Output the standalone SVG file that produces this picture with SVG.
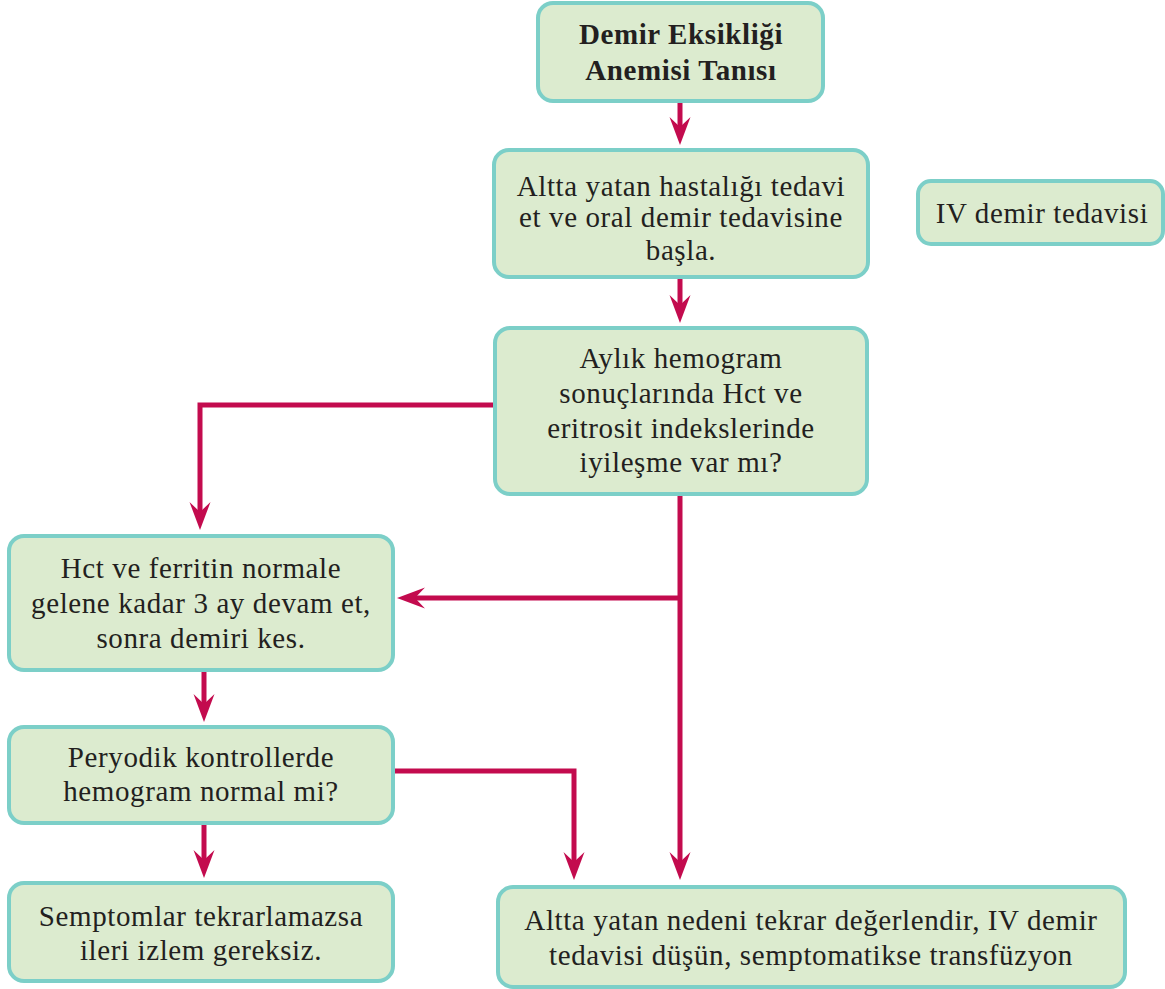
<svg xmlns="http://www.w3.org/2000/svg" width="1165" height="989" viewBox="0 0 1165 989">
<style>
.box{fill:#dcebcf;stroke:#7ccfc8;stroke-width:4}
.t{font-family:"Liberation Serif","Times New Roman",serif;font-size:29px;letter-spacing:0.6px;fill:#231f20;text-anchor:middle}
.b{font-weight:bold}
.c{fill:none;stroke:#c30b4e;stroke-width:5;stroke-linejoin:miter}
</style>
<defs>
<marker id="ah" markerUnits="userSpaceOnUse" markerWidth="40" markerHeight="40" viewBox="-20 -20 40 40" refX="0" refY="0" orient="auto">
<path d="M14,0 L-14,-10.5 L-4,0 L-14,10.5 Z" fill="#c30b4e"/>
</marker>
</defs>
<rect width="1165" height="989" fill="#ffffff"/>
<g id="connectors">
<path class="c" d="M680,101 V131" marker-end="url(#ah)"/>
<path class="c" d="M680,277 V309" marker-end="url(#ah)"/>
<path class="c" d="M494,405 H200 V516" marker-end="url(#ah)"/>
<path class="c" d="M680,494 V866" marker-end="url(#ah)"/>
<path class="c" d="M680,598 H411" marker-end="url(#ah)"/>
<path class="c" d="M204,670 V708" marker-end="url(#ah)"/>
<path class="c" d="M395,771 H574 V866" marker-end="url(#ah)"/>
<path class="c" d="M204,823 V864" marker-end="url(#ah)"/>
</g>
<g id="n1">
<rect class="box" x="538" y="3" width="285" height="98" rx="15"/>
<text class="t b" x="681" y="44">Demir Eksikliği</text>
<text class="t b" x="681" y="80">Anemisi Tanısı</text>
</g>
<g id="n2">
<rect class="box" x="494" y="150" width="374" height="127" rx="15"/>
<text class="t" x="681" y="196">Altta yatan hastalığı tedavi</text>
<text class="t" x="681" y="227">et ve oral demir tedavisine</text>
<text class="t" x="681" y="260">başla.</text>
</g>
<g id="n3">
<rect class="box" x="495" y="328" width="372" height="166" rx="15"/>
<text class="t" x="681" y="368">Aylık hemogram</text>
<text class="t" x="681" y="403">sonuçlarında Hct ve</text>
<text class="t" x="681" y="438">eritrosit indekslerinde</text>
<text class="t" x="681" y="472">iyileşme var mı?</text>
</g>
<g id="n4">
<rect class="box" x="918" y="181" width="245" height="63" rx="13"/>
<text class="t" x="1042" y="223">IV demir tedavisi</text>
</g>
<g id="n5">
<rect class="box" x="9" y="536" width="384" height="134" rx="15"/>
<text class="t" x="201" y="578">Hct ve ferritin normale</text>
<text class="t" x="201" y="613">gelene kadar 3 ay devam et,</text>
<text class="t" x="201" y="648">sonra demiri kes.</text>
</g>
<g id="n6">
<rect class="box" x="9" y="727" width="384" height="96" rx="15"/>
<text class="t" x="201" y="767">Peryodik kontrollerde</text>
<text class="t" x="201" y="801">hemogram normal mi?</text>
</g>
<g id="n7">
<rect class="box" x="9" y="883" width="384" height="98" rx="15"/>
<text class="t" x="201" y="926">Semptomlar tekrarlamazsa</text>
<text class="t" x="201" y="960">ileri izlem gereksiz.</text>
</g>
<g id="n8">
<rect class="box" x="498" y="887" width="627" height="100" rx="15"/>
<text class="t" x="811" y="930">Altta yatan nedeni tekrar değerlendir, IV demir</text>
<text class="t" x="811" y="965">tedavisi düşün, semptomatikse transfüzyon</text>
</g>
</svg>
